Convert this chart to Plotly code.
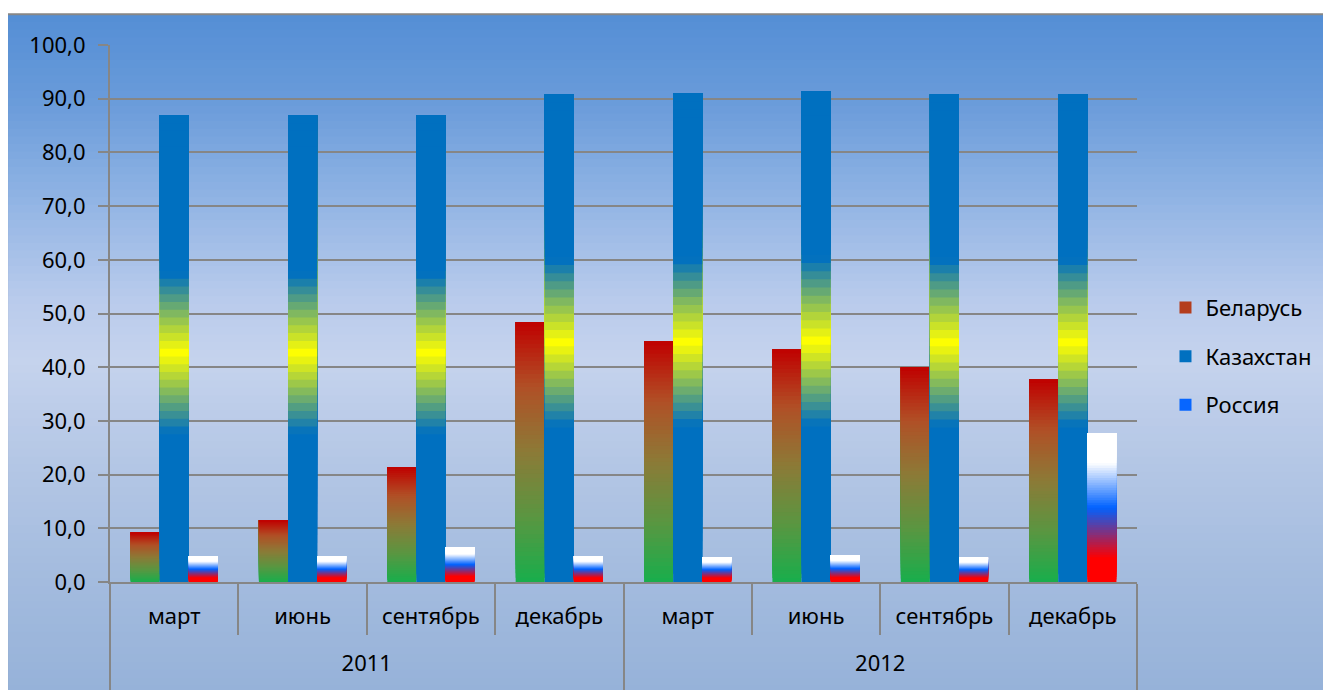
import plotly.graph_objects as go

# ---- data ----
years = ["2011", "2011", "2011", "2011", "2012", "2012", "2012", "2012"]
months = ["март", "июнь", "сентябрь", "декабрь", "март", "июнь", "сентябрь", "декабрь"]
belarus = [9.2, 11.5, 21.4, 48.4, 44.8, 43.3, 40.0, 37.7]
kazakhstan = [86.9, 86.9, 86.9, 90.8, 91.0, 91.4, 90.8, 90.8]
russia = [4.8, 4.8, 6.5, 4.8, 4.6, 5.0, 4.6, 27.7]
series_names = ["Беларусь", "Казахстан", "Россия"]
y_ticks = [0, 10, 20, 30, 40, 50, 60, 70, 80, 90, 100]

# ---- styling: gradient stops (fraction of bar height -> rgb) ----
grad_belarus = [(0.0, (24, 174, 76)), (0.25, (90, 150, 65)), (0.5, (140, 122, 55)),
                (0.75, (176, 80, 38)), (1.0, (192, 0, 0))]
grad_kaz = [(0.0, (0, 112, 192)), (0.32, (0, 112, 192)), (0.49, (255, 255, 0)),
            (0.66, (0, 112, 192)), (1.0, (0, 112, 192))]
grad_rus = [(0.0, (255, 0, 0)), (0.16, (255, 0, 0)), (0.5, (0, 98, 255)),
            (0.8, (255, 255, 255)), (1.0, (255, 255, 255))]


def interp(stops, t):
    for (t0, c0), (t1, c1) in zip(stops[:-1], stops[1:]):
        if t0 <= t <= t1:
            f = 0 if t1 == t0 else (t - t0) / (t1 - t0)
            c = [round(a + (b - a) * f) for a, b in zip(c0, c1)]
            return "rgb(%d,%d,%d)" % tuple(c)
    return "rgb(%d,%d,%d)" % stops[-1][1]


FONT = "'Noto Sans', sans-serif"
N = 60
fig = go.Figure()
x = [[yy + "<br> " for yy in years], [m + "<br> " for m in months]]
legend_seg = {"Беларусь": 0.8, "Казахстан": 0.1, "Россия": 0.5}
for name, vals, stops in zip(series_names, [belarus, kazakhstan, russia],
                             [grad_belarus, grad_kaz, grad_rus]):
    leg_k = int(legend_seg[name] * N)
    for k in range(N):
        t = (k + 0.5) / N
        # each segment spans from its start up to the bar top; later segments
        # paint over the upper part, giving a seamless stepped gradient
        fig.add_trace(go.Bar(
            x=x, y=[v * (N - k) / N for v in vals], base=[v * k / N for v in vals],
            offsetgroup=name, name=name, legendgroup=name,
            showlegend=(k == leg_k),
            marker=dict(color=interp(stops, t), line=dict(width=0)),
            hoverinfo="skip"))

# ---- layout geometry (page pixels; page has an 8px body offset) ----
OFF = 8
W, H = 1331 - OFF, 690 - OFF
L, R, T, B = 110, 1137.5, 44.7, 581.7
def px(v):
    return (v - L) / (R - L)
def py(v):
    return (B - v) / (B - T)

bg_stops = [(14, (84, 142, 213)), (100, (105, 155, 218)), (200, (145, 180, 228)),
            (300, (185, 203, 236)), (360, (197, 211, 237)), (450, (182, 200, 230)),
            (580, (163, 187, 222)), (690, (150, 178, 217))]
def bg_col(yy):
    for (a, ca), (b, cb) in zip(bg_stops[:-1], bg_stops[1:]):
        if a <= yy <= b:
            f = (yy - a) / (b - a)
            return "rgb(%d,%d,%d)" % tuple(round(p + (q - p) * f) for p, q in zip(ca, cb))
    return "rgb(%d,%d,%d)" % bg_stops[-1][1]

shapes = []
nb = 90
top, bot = 14, 700
for i in range(nb):
    y0 = top + (bot - top) * i / nb
    y1 = top + (bot - top) * (i + 1) / nb + 0.8
    shapes.append(dict(type="rect", xref="paper", yref="paper", layer="below",
                       x0=px(7), x1=px(1345), y0=py(y1), y1=py(y0),
                       fillcolor=bg_col((y0 + y1) / 2), line=dict(width=0)))
shapes.append(dict(type="rect", xref="paper", yref="paper", layer="below",
                   x0=px(7), x1=px(1345), y0=py(705), y1=py(14),
                   fillcolor="rgba(0,0,0,0)", line=dict(color="#878787", width=2)))

GRID = "#868686"
fig.update_layout(
    width=W, height=H,
    margin=dict(l=L - OFF, r=1331 - R, t=T - OFF, b=690 - B, autoexpand=False),
    paper_bgcolor="white", plot_bgcolor="rgba(0,0,0,0)",
    barmode="group", bargap=0.32, bargroupgap=0,
    separators=", ",
    font=dict(family=FONT, size=22, color="black"),
    shapes=shapes,
    showlegend=True,
    legend=dict(x=px(1166), xanchor="left", y=py(356), yanchor="middle",
                bgcolor="rgba(0,0,0,0)", tracegroupgap=17,
                font=dict(family=FONT, size=22, color="black")),
)
fig.update_yaxes(range=[0, 100], tickvals=y_ticks, tickformat=".1f",
                 showgrid=True, gridcolor=GRID, gridwidth=2,
                 showline=True, linecolor=GRID, linewidth=2,
                 ticks="outside", ticklen=10, tickcolor=GRID, tickwidth=2,
                 ticklabelstandoff=8, zeroline=False,
                 tickfont=dict(family=FONT, size=22, color="black"))
fig.update_xaxes(type="multicategory", showline=True, linecolor=GRID, linewidth=2,
                 ticks="outside", tickson="boundaries", ticklen=51,
                 tickcolor=GRID, tickwidth=2,
                 showdividers=True, dividercolor=GRID, dividerwidth=2,
                 ticklabelstandoff=14,
                 tickfont=dict(family=FONT, size=22, color="black"))

fig.write_html("out.html")
